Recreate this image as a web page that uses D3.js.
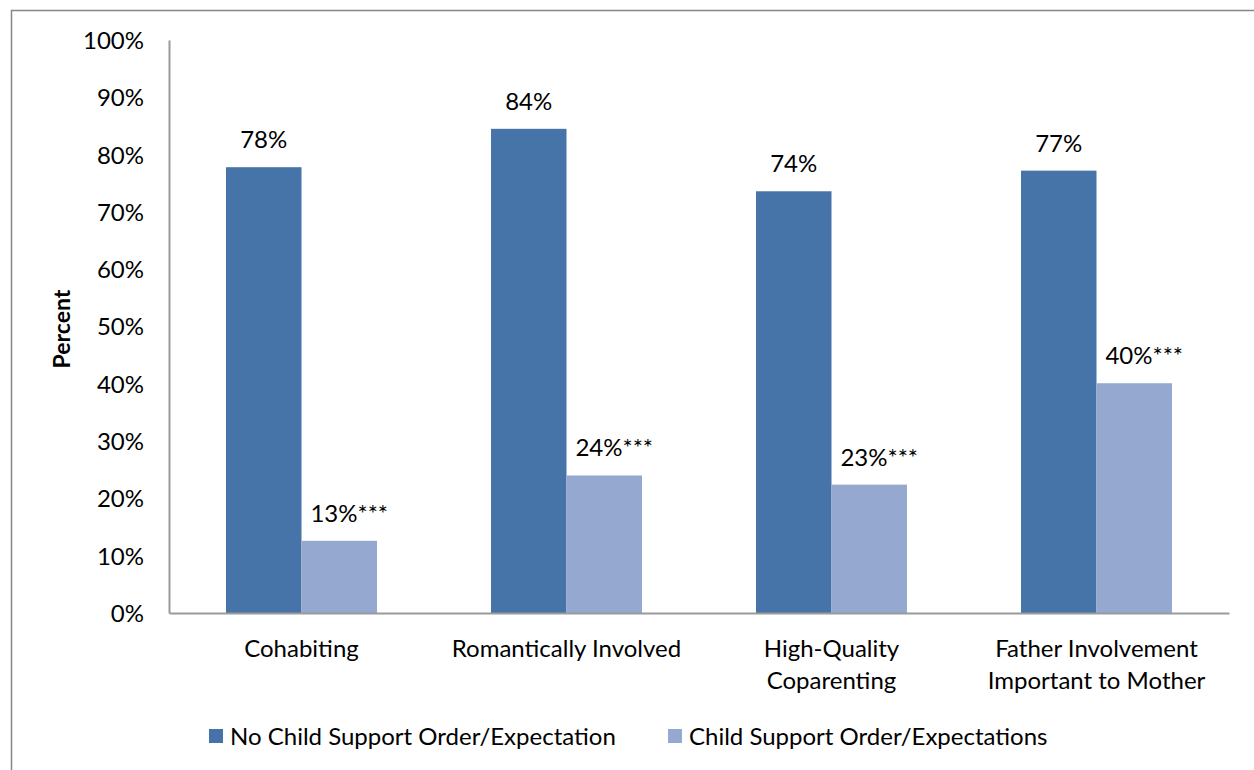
<!DOCTYPE html>
<html><head><meta charset="utf-8">
<script src="https://cdn.jsdelivr.net/npm/d3@7/dist/d3.min.js"></script>
<style>body{margin:0;background:#fff}svg text{font-family:Lato,"Open Sans",sans-serif;fill:#000}</style>
</head><body><svg id="c" width="1254" height="770"></svg>
<script>
const categories = [["Cohabiting"],["Romantically Involved"],["High-Quality","Coparenting"],["Father Involvement","Important to Mother"]];
const seriesNames = ["No Child Support Order/Expectation","Child Support Order/Expectations"];
const noOrder = [77.8, 84.5, 73.6, 77.2];
const withOrder = [12.6, 24.0, 22.4, 40.1];
const labelsNo = ["78%","84%","74%","77%"];
const labelsWith = ["13%***","24%***","23%***","40%***"];
const yTicks = [0,10,20,30,40,50,60,70,80,90,100];
const colors = ["#4674A8","#95A9D0"];

const svg = d3.select("#c");
const fs = 24;
// outer border
svg.append("rect").attr("x",11.5).attr("y",10.5).attr("width",1300).attr("height",800)
  .attr("fill","none").attr("stroke","#868686").attr("stroke-width",1.5);

const pL=169, pR=1229, pT=40, pB=613;
const x = d3.scaleBand().domain(d3.range(categories.length)).range([pL,pR]).paddingInner(0).paddingOuter(0);
const inner = d3.scaleBand().domain([0,1]).range([0, x.bandwidth()]).paddingOuter(0.755).paddingInner(0);
const y = d3.scaleLinear().domain([0,100]).range([pB,pT]);

const series = [noOrder, withOrder];
const labels = [labelsNo, labelsWith];
series.forEach((vals,si)=>{
  svg.append("g").selectAll("rect").data(vals).join("rect")
    .attr("x",(d,i)=>x(i)+inner(si)).attr("width",inner.bandwidth())
    .attr("y",d=>y(d)).attr("height",d=>y(0)-y(d)).attr("fill",colors[si]);
  svg.append("g").selectAll("text").data(vals).join("text")
    .attr("x",(d,i)=>x(i)+inner(si)+inner.bandwidth()/2 + (si===1?10:0))
    .attr("y",d=>y(d)-19).attr("text-anchor","middle").attr("font-size",fs)
    .text((d,i)=>labels[si][i]);
});

// y axis
const yAxis = d3.axisLeft(y).tickValues(yTicks).tickFormat(d=>d+"%").tickSize(0).tickPadding(25);
const gy = svg.append("g").attr("transform",`translate(${pL},0)`).call(yAxis);
gy.select(".domain").attr("stroke","#9a9a9a").attr("stroke-width",2);
gy.selectAll("text").attr("font-size",fs).attr("dy","0.35em").style("font-family","Lato");

// x axis
const xAxis = d3.axisBottom(x).tickSize(0).tickFormat("");
const gx = svg.append("g").attr("transform",`translate(0,${pB})`).call(xAxis);
gx.select(".domain").attr("stroke","#9a9a9a").attr("stroke-width",2);
categories.forEach((lines,i)=>{
  const t = svg.append("text").attr("text-anchor","middle").attr("font-size",fs)
    .attr("x",x(i)+x.bandwidth()/2).attr("y",657);
  lines.forEach((l,j)=>t.append("tspan").attr("x",x(i)+x.bandwidth()/2).attr("dy",j===0?0:32).text(l));
});

// y title
svg.append("text").attr("transform","translate(70,329) rotate(-90)").attr("text-anchor","middle")
  .attr("font-size",23).attr("font-weight","bold").text("Percent");

// legend
const legX = [209, 668];
seriesNames.forEach((n,i)=>{
  svg.append("rect").attr("x",legX[i]).attr("y",729).attr("width",14).attr("height",14).attr("fill",colors[i]);
  svg.append("text").attr("x",legX[i]+21).attr("y",745).attr("font-size",fs).text(n);
});
</script></body></html>
